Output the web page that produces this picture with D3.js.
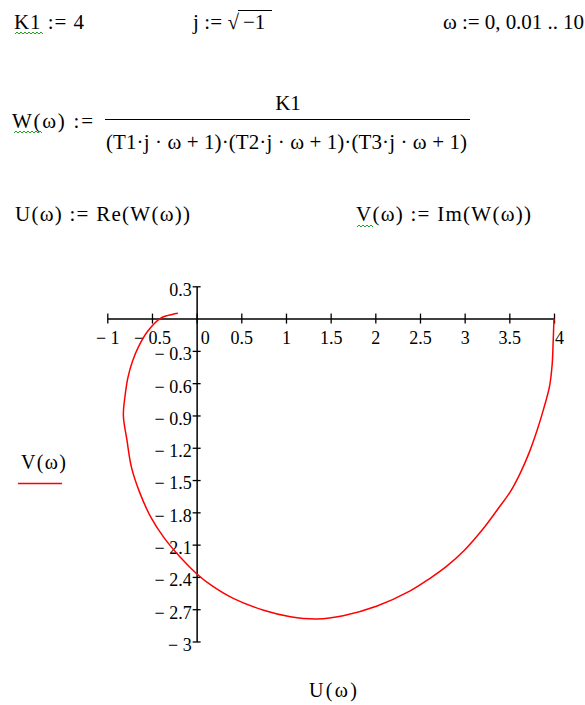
<!DOCTYPE html>
<html><head><meta charset="utf-8">
<script src="https://cdn.jsdelivr.net/npm/d3@7"></script>
<style>
body{margin:0;background:#fff;}
svg{display:block;}
text{font-family:"Liberation Serif","Times New Roman",serif;fill:#000;}
</style></head><body>
<svg id="c" width="585" height="705"></svg>
<script>
// Nyquist curve: U = Re(W(ω)), V = Im(W(ω))
const uValues = [4.00, 3.99, 3.98, 3.95, 3.88, 3.81, 3.72, 3.62, 3.51, 3.38, 3.20, 3.00, 2.80, 2.60, 2.39, 2.02, 1.64, 1.35, 1.05, 0.75, 0.41, 0.15, 0.00, -0.18, -0.37, -0.51, -0.64, -0.73, -0.78, -0.82, -0.80, -0.77, -0.72, -0.65, -0.55, -0.41, -0.32, -0.21];
const vValues = [0.00, -0.23, -0.42, -0.63, -0.85, -1.04, -1.25, -1.44, -1.61, -1.76, -1.96, -2.15, -2.30, -2.42, -2.53, -2.67, -2.76, -2.79, -2.77, -2.71, -2.60, -2.47, -2.37, -2.22, -2.03, -1.85, -1.61, -1.38, -1.13, -0.90, -0.71, -0.55, -0.40, -0.26, -0.12, 0.00, 0.03, 0.05];
const xTickValues = [-1, -0.5, 0, 0.5, 1, 1.5, 2, 2.5, 3, 3.5, 4];
const xTickLabels = ["− 1", "− 0.5", "0", "0.5", "1", "1.5", "2", "2.5", "3", "3.5", "4"];
const yTickValues = [0.3, -0.3, -0.6, -0.9, -1.2, -1.5, -1.8, -2.1, -2.4, -2.7, -3];
const yTickLabels = ["0.3", "− 0.3", "− 0.6", "− 0.9", "− 1.2", "− 1.5", "− 1.8", "− 2.1", "− 2.4", "− 2.7", "− 3"];
const xDomain = [-1, 4];
const yDomain = [-3, 0.3];

const svg = d3.select("#c");

function wavy(x0, x1, y) {
  const p = d3.path();
  p.moveTo(x0, y);
  let up = true;
  for (let x = x0 + 2; x <= x1; x += 2) { p.lineTo(x, up ? y - 2 : y); up = !up; }
  svg.append("path").attr("d", p.toString()).attr("fill", "none")
    .attr("stroke", "#1fa21f").attr("stroke-width", 1);
}
function txt(x, y, s, len, size) {
  const t = svg.append("text").attr("x", x).attr("y", y).style("font-size", (size || 21) + "px").text(s);
  if (len) t.attr("textLength", len).attr("lengthAdjust", "spacing");
  return t;
}

// ---- Header (Mathcad definitions) ----
txt(14, 29, "K1 := 4", 70);
wavy(15, 43, 34);
txt(193, 29, "j := √", 46);
txt(243, 29, "−1");
svg.append("line").attr("x1", 238).attr("x2", 272).attr("y1", 10.5).attr("y2", 10.5)
  .attr("stroke", "#000").attr("stroke-width", 1.2);
txt(443, 29, "ω := 0, 0.01 .. 10", 141);

txt(12, 128, "W(ω) :=", 81);
wavy(14, 42, 133);
txt(288, 110, "K1").attr("text-anchor", "middle");
svg.append("line").attr("x1", 105).attr("x2", 470).attr("y1", 119.5).attr("y2", 119.5)
  .attr("stroke", "#000").attr("stroke-width", 1.2);
txt(106, 149, "(T1·j · ω + 1)·(T2·j · ω + 1)·(T3·j · ω + 1)", 361);

txt(15, 221, "U(ω) := Re(W(ω))", 175);
txt(356, 221, "V(ω) := Im(W(ω))", 175);
wavy(357, 373, 227);

// ---- Plot ----
const x = d3.scaleLinear().domain(xDomain).range([107.3, 554]);
const y = d3.scaleLinear().domain(yDomain).range([641.5, 286.3]);
const x0 = x(0), y0 = y(0);

const xAxis = svg.append("g").attr("transform", `translate(0,${y0})`)
  .call(d3.axisBottom(x).tickValues(xTickValues).tickSizeOuter(0).tickSizeInner(5)
    .tickFormat((d, i) => xTickLabels[i]));
xAxis.select(".domain").attr("stroke", "#000").attr("stroke-width", 1.5);
xAxis.selectAll(".tick line").attr("y1", -5).attr("y2", 5).attr("stroke", "#000").attr("stroke-width", 1.3);
xAxis.selectAll(".tick text").attr("y", 25).attr("dy", null)
  .style("font-size", "18px").attr("fill", "#000")
  .attr("dx", d => d === 0 ? 8 : (d === 4 ? 5 : 0));

const yAxis = svg.append("g").attr("transform", `translate(${x0},0)`)
  .call(d3.axisLeft(y).tickValues(yTickValues).tickSizeOuter(0).tickSizeInner(4)
    .tickFormat((d, i) => yTickLabels[i]));
yAxis.select(".domain").attr("stroke", "#000").attr("stroke-width", 1.5);
yAxis.selectAll(".tick line").attr("x1", 4).attr("x2", -4).attr("stroke", "#000").attr("stroke-width", 1.3);
yAxis.selectAll(".tick text").attr("x", -5).attr("dy", "0.38em").attr("y", 2)
  .style("font-size", "18px").attr("fill", "#000");
svg.selectAll("g").attr("font-family", null).attr("font-size", null);

const pts = uValues.map((u, i) => [u, vValues[i]]);
const line = d3.line().x(d => x(d[0])).y(d => y(d[1])).curve(d3.curveCatmullRom.alpha(0.5));
svg.append("path").datum(pts).attr("d", line).attr("fill", "none")
  .attr("stroke", "#ff0000").attr("stroke-width", 1.5);

// ---- Axis names / legend ----
txt(21, 469, "V(ω)", 45, 20);
svg.append("line").attr("x1", 18).attr("x2", 62).attr("y1", 483.5).attr("y2", 483.5)
  .attr("stroke", "#ff0000").attr("stroke-width", 1.5);
txt(309, 697, "U(ω)", 48, 20);
</script>
</body></html>
